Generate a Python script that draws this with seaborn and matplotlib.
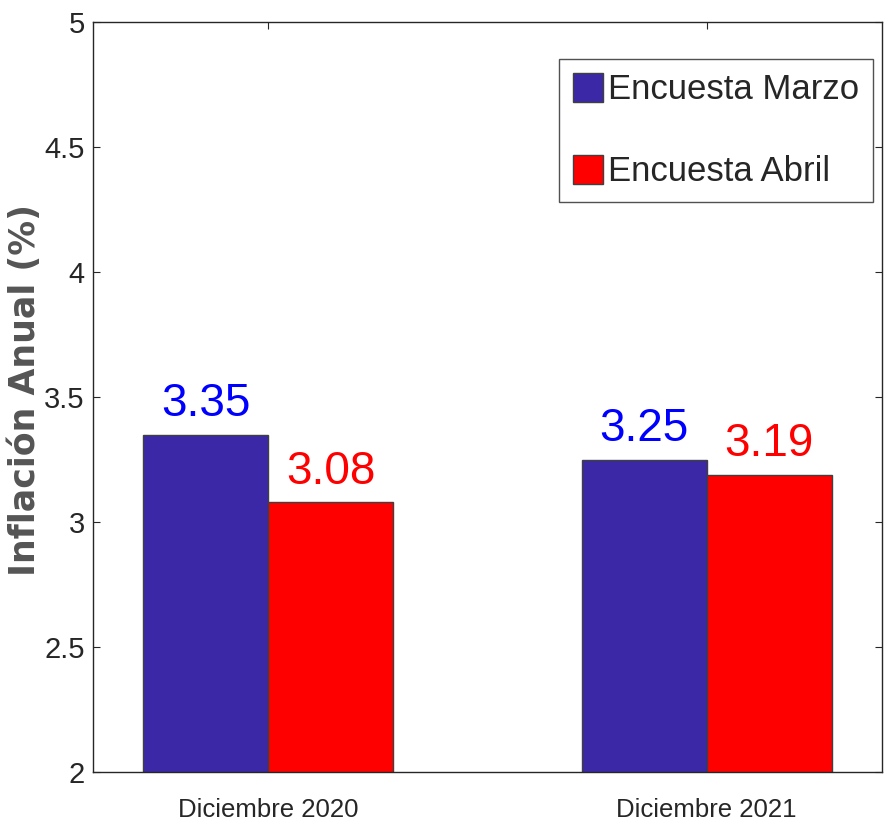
import numpy as np
import pandas as pd
import matplotlib
matplotlib.use("Agg")
import matplotlib.pyplot as plt
from matplotlib import font_manager
import seaborn as sns

# data
periods = ["Diciembre 2020", "Diciembre 2021"]
surveys = ["Encuesta Marzo", "Encuesta Abril"]
marzo = [3.35, 3.25]
abril = [3.08, 3.19]
bar_colors = ["#3A28A6", "#FF0000"]
label_colors = ["#0000FF", "#FF0000"]
yticks = [2, 2.5, 3, 3.5, 4, 4.5, 5]
ytick_labels = ["2", "2.5", "3", "3.5", "4", "4.5", "5"]

df = pd.DataFrame({
    "periodo": periods * 2,
    "encuesta": [surveys[0]] * 2 + [surveys[1]] * 2,
    "valor": marzo + abril,
})

sns.set_style("ticks")

installed = {f.name for f in font_manager.fontManager.ttflist}
def pick(*names):
    for n in names:
        if n in installed:
            return n
    return "DejaVu Sans"

narrow = pick("Liberation Sans Narrow", "Liberation Sans", "Arimo")
plt.rcParams["font.family"] = [narrow, "DejaVu Sans"]

fig = plt.figure(figsize=(8.88, 8.35), dpi=100)
ax = fig.add_axes([93 / 888, 63 / 835, 789 / 888, 750 / 835])

sns.barplot(data=df, x="periodo", y="valor", hue="encuesta",
            palette=bar_colors, width=0.57, edgecolor="#404040",
            linewidth=1.0, ax=ax, saturation=1)

ax.set_ylim(2, 5)
ax.set_xlim(-0.4, 1.4)
ax.set_yticks(yticks)
ax.set_yticklabels(ytick_labels)
ax.set_xlabel("")
ax.set_ylabel("Inflación Anual (%)", fontsize=25, color="#555555",
              family="DejaVu Sans", fontweight="bold")
ax.yaxis.set_label_coords(-0.065, 0.51)

for sp in ax.spines.values():
    sp.set_visible(True)
    sp.set_color("#262626")
    sp.set_linewidth(1.0)

ax.tick_params(axis="both", direction="in", length=5, width=0.8,
               top=True, right=True, colors="#262626")
ax.tick_params(axis="y", labelsize=21, pad=6)
ax.tick_params(axis="x", labelsize=18.5, pad=19)

for cont, col in zip(ax.containers, label_colors):
    ax.bar_label(cont, fmt="%.2f", padding=6, fontsize=33, color=col)

leg = ax.legend(loc="upper right", bbox_to_anchor=(873 / 888, 776 / 835),
                bbox_transform=fig.transFigure, borderaxespad=0,
                fontsize=25, frameon=True, fancybox=False,
                handlelength=0.85, handleheight=0.9, handletextpad=0.15,
                labelspacing=1.4, borderpad=0.4)
leg.get_frame().set_edgecolor("#262626")
leg.get_frame().set_linewidth(1.0)
for h in leg.legend_handles:
    h.set_edgecolor("#404040")

fig.savefig("out.png", dpi=100)
